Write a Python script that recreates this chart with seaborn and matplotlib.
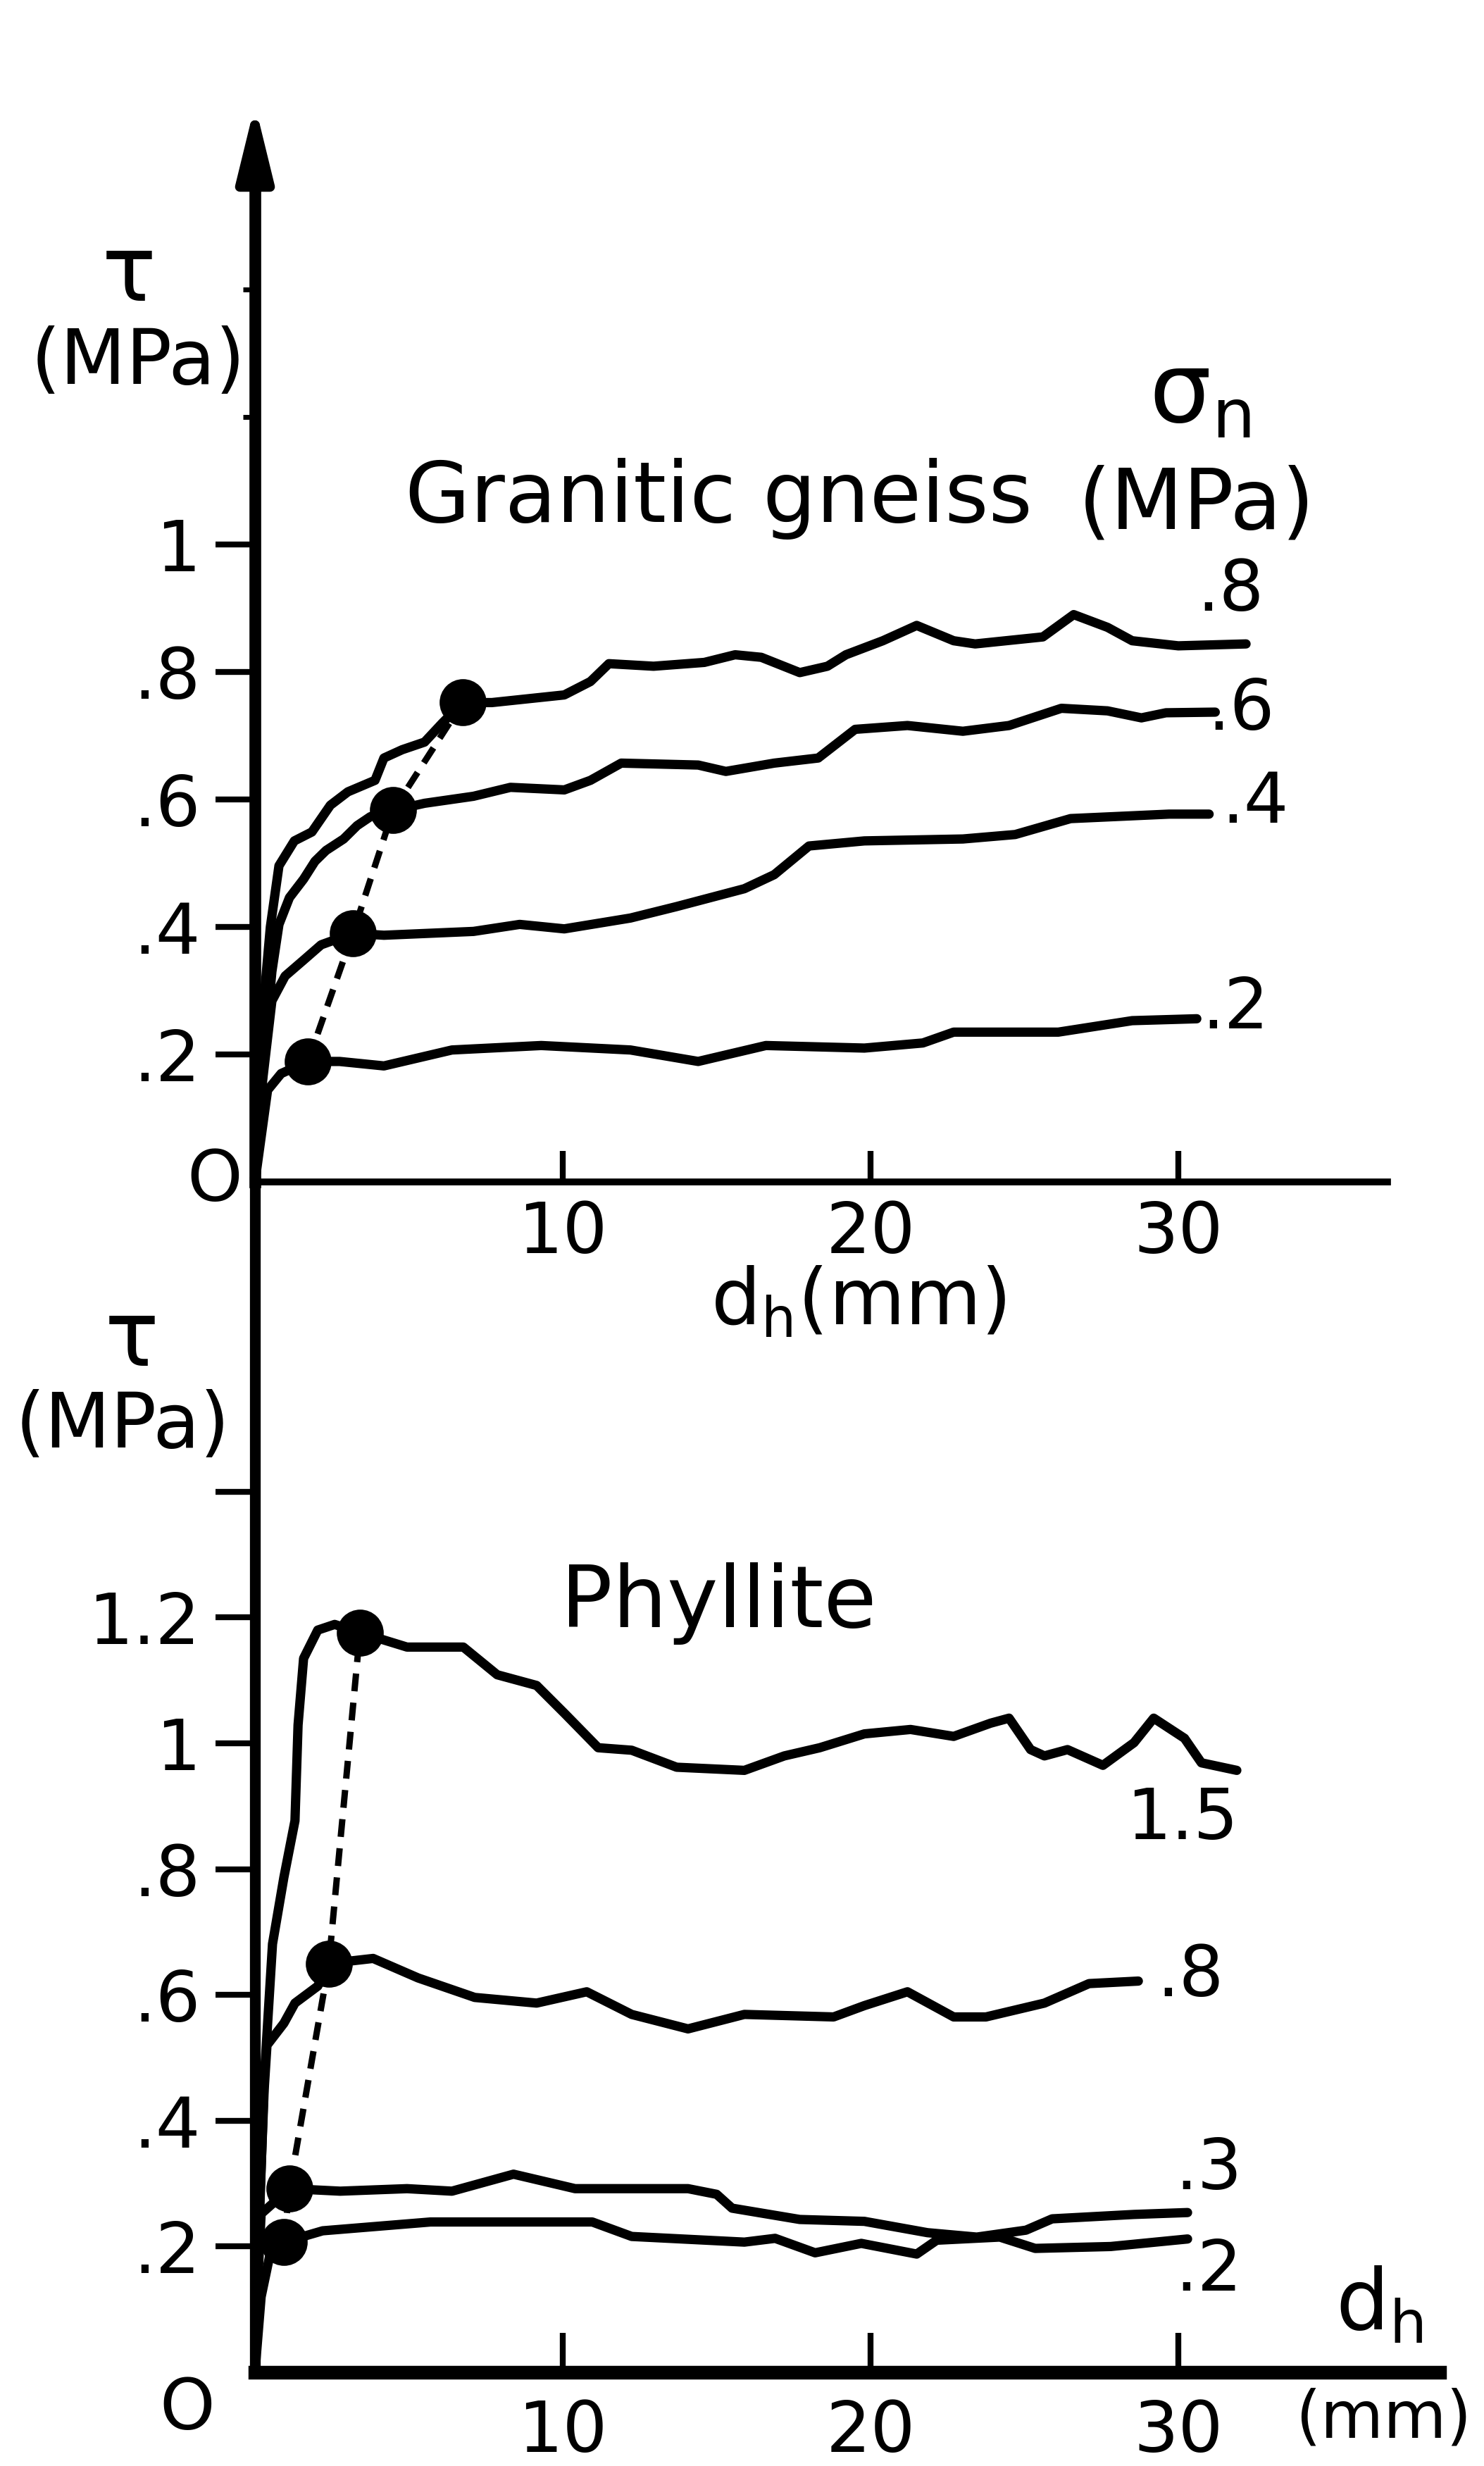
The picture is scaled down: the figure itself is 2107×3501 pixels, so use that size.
import numpy as np
import pandas as pd
import matplotlib
matplotlib.use("Agg")
import matplotlib.pyplot as plt
import seaborn as sns

# ---------------- data ----------------
# Granitic gneiss, sigma_n = .8, .6, .4, .2 MPa
gg_08_d = [0, 0.1, 0.25, 0.5, 0.78, 1.28, 1.85, 2.45, 3.02, 3.9, 4.19, 4.78, 5.51, 6.09, 6.75, 7.7, 10.05,
           10.9, 11.5, 12.95, 14.6, 15.6, 16.45, 17.7, 18.6, 19.2, 20.4, 21.5, 22.7, 23.4, 25.6, 26.6, 27.7,
           28.5, 30.0, 32.2]
gg_08_t = [0, 0.12, 0.263, 0.40, 0.496, 0.535, 0.549, 0.591, 0.612, 0.63, 0.665, 0.678, 0.69, 0.72, 0.752,
           0.752, 0.764, 0.785, 0.813, 0.809, 0.815, 0.827, 0.823, 0.799, 0.809, 0.827, 0.849, 0.873, 0.849,
           0.844, 0.855, 0.89, 0.87, 0.849, 0.841, 0.844]
gg_06_d = [0, 0.3, 0.55, 0.78, 1.12, 1.58, 1.95, 2.31, 2.88, 3.32, 3.75, 4.49, 5.51, 7.1, 8.3, 10.05, 10.9,
           11.9, 14.4, 15.3, 16.87, 18.3, 19.5, 21.2, 23.0, 24.5, 26.2, 27.7, 28.8, 29.6, 31.2]
gg_06_t = [0, 0.20, 0.33, 0.404, 0.446, 0.475, 0.503, 0.52, 0.538, 0.559, 0.573, 0.583, 0.594, 0.605, 0.619,
           0.615, 0.63, 0.657, 0.654, 0.644, 0.657, 0.665, 0.71, 0.716, 0.707, 0.716, 0.743, 0.739, 0.728,
           0.736, 0.737]
gg_04_d = [0, 0.25, 0.55, 0.98, 1.58, 2.15, 3.18, 4.19, 7.1, 8.6, 10.05, 12.2, 13.7, 15.9, 16.87, 18.0, 19.8,
           23.0, 24.7, 26.5, 29.7, 31.0]
gg_04_t = [0, 0.16, 0.284, 0.323, 0.348, 0.372, 0.39, 0.387, 0.393, 0.404, 0.397, 0.414, 0.432, 0.46, 0.482,
           0.527, 0.535, 0.538, 0.545, 0.57, 0.577, 0.577]
gg_02_d = [0, 0.41, 0.85, 1.72, 2.75, 4.19, 6.4, 9.3, 12.2, 14.4, 16.6, 19.8, 21.7, 22.7, 26.1, 28.5, 30.6]
gg_02_t = [0, 0.144, 0.17, 0.189, 0.189, 0.182, 0.207, 0.214, 0.207, 0.189, 0.214, 0.21, 0.218, 0.235, 0.235,
           0.253, 0.256]
gg_peak_d = [1.72, 3.18, 4.49, 6.75]
gg_peak_t = [0.189, 0.39, 0.583, 0.752]

# Phyllite, sigma_n = 1.5, .8, .3, .2 MPa
ph_15_d = [0, 0.15, 0.3, 0.57, 0.94, 1.3, 1.4, 1.58, 2.04, 2.59, 3.41, 4.94, 6.77, 7.87, 9.15, 10.07, 11.15,
           12.24, 13.7, 15.9, 17.2, 18.35, 19.8, 21.3, 22.7, 23.9, 24.5, 25.2, 25.65, 26.4, 27.55, 28.56,
           29.2, 30.2, 30.75, 31.9]
ph_15_t = [0, 0.25, 0.466, 0.681, 0.787, 0.877, 1.029, 1.135, 1.18, 1.189, 1.176, 1.153, 1.153, 1.109, 1.092,
           1.047, 0.993, 0.989, 0.962, 0.957, 0.98, 0.993, 1.015, 1.022, 1.011, 1.032, 1.04, 0.99, 0.98,
           0.99, 0.965, 1.001, 1.04, 1.008, 0.969, 0.957]
ph_08_d = [0, 0.1, 0.3, 0.39, 0.94, 1.3, 2.04, 2.4, 3.84, 5.3, 7.14, 9.15, 10.78, 12.24, 14.07, 15.9, 18.8,
           19.8, 21.2, 22.7, 23.75, 25.65, 27.1, 28.7]
ph_08_t = [0, 0.2, 0.45, 0.52, 0.555, 0.587, 0.614, 0.65, 0.658, 0.627, 0.596, 0.587, 0.605, 0.569, 0.546,
           0.569, 0.565, 0.583, 0.605, 0.565, 0.565, 0.587, 0.618, 0.622]
ph_03_d = [0, 0.1, 0.2, 1.12, 2.77, 4.94, 6.4, 8.4, 10.4, 14.07, 15.0, 15.5, 17.7, 19.8, 21.85, 23.45, 25.05,
           25.9, 28.56, 30.3]
ph_03_t = [0, 0.15, 0.252, 0.292, 0.288, 0.292, 0.288, 0.315, 0.292, 0.292, 0.283, 0.261, 0.243, 0.24, 0.222,
           0.215, 0.226, 0.244, 0.251, 0.254]
ph_02_d = [0, 0.2, 0.5, 0.94, 2.2, 5.7, 10.96, 12.24, 15.9, 16.9, 18.2, 19.7, 21.5, 22.15, 24.2, 25.35, 27.8,
           30.3]
ph_02_t = [0, 0.12, 0.19, 0.207, 0.225, 0.239, 0.239, 0.216, 0.207, 0.213, 0.19, 0.205, 0.188, 0.21, 0.215,
           0.197, 0.2, 0.212]
ph_peak_d = [0.94, 1.12, 2.4, 3.41]
ph_peak_t = [0.207, 0.292, 0.65, 1.176]

gg_sigma_labels = [".8", ".6", ".4", ".2"]
ph_sigma_labels = ["1.5", ".8", ".3", ".2"]
gg_yticks = [0.2, 0.4, 0.6, 0.8, 1.0]
gg_yticklabels = [".2", ".4", ".6", ".8", "1"]
ph_yticks = [0.2, 0.4, 0.6, 0.8, 1.0, 1.2, 1.4]
ph_yticklabels = [".2", ".4", ".6", ".8", "1", "1.2", ""]
xticks = [10, 20, 30]
xticklabels = ["10", "20", "30"]

def long_df(curves, labels):
    rows = []
    for (d, t), lab in zip(curves, labels):
        for a, b in zip(d, t):
            rows.append({"sigma": lab, "d": a, "tau": b})
    return pd.DataFrame(rows)

df_gg = long_df([(gg_08_d, gg_08_t), (gg_06_d, gg_06_t), (gg_04_d, gg_04_t), (gg_02_d, gg_02_t)],
                gg_sigma_labels)
df_ph = long_df([(ph_15_d, ph_15_t), (ph_08_d, ph_08_t), (ph_03_d, ph_03_t), (ph_02_d, ph_02_t)],
                ph_sigma_labels)

# ---------------- style ----------------
sns.set_style("white")
plt.rcParams["font.family"] = ["DejaVu Sans"]
plt.rcParams["mathtext.default"] = "regular"
for k in ["text.color", "axes.labelcolor", "xtick.color", "ytick.color", "axes.edgecolor"]:
    plt.rcParams[k] = "black"

W, H = 2107, 3501
fig = plt.figure(figsize=(W / 100, H / 100), dpi=100)
fig.patch.set_facecolor("white")

x0 = 362.0      # pixel of d = 0
pxmm = 43.7     # pixels per mm

# top axes
t_y0, t_pu = 1678.0, 905.0
t_xmax, t_ymax = 36.8, 1.69
ax1 = fig.add_axes([x0 / W, (H - t_y0) / H, t_xmax * pxmm / W, t_ymax * t_pu / H])
# bottom axes
b_y0, b_pu = 3368.0, 893.0
b_xmax, b_ymax = 38.5, (b_y0 - t_y0) / b_pu
ax2 = fig.add_axes([x0 / W, (H - b_y0) / H, b_xmax * pxmm / W, b_ymax * b_pu / H])

LW = 9.5
TICKFS = 72

for ax, df, xmax, ymax in [(ax1, df_gg, t_xmax, t_ymax), (ax2, df_ph, b_xmax, b_ymax)]:
    ax.set_facecolor("none")
    sns.lineplot(data=df, x="d", y="tau", units="sigma", estimator=None, sort=False,
                 color="black", lw=LW, ax=ax, legend=False, solid_capstyle="round",
                 solid_joinstyle="round")
    ax.set_xlim(0, xmax)
    ax.set_ylim(0, ymax)
    ax.set_xlabel("")
    ax.set_ylabel("")
    for s in ["top", "right"]:
        ax.spines[s].set_visible(False)
    for s in ["left", "bottom"]:
        ax.spines[s].set_color("black")
    ax.set_xticks(xticks)
    ax.set_xticklabels(xticklabels)

# peak points and dashed connection
for ax, pd_, pt_ in [(ax1, gg_peak_d, gg_peak_t), (ax2, ph_peak_d, ph_peak_t)]:
    ln, = ax.plot(pd_, pt_, color="black", lw=6.5, zorder=3)
    ln.set_dashes([2.8, 1.8])
    sns.scatterplot(x=pd_, y=pt_, ax=ax, color="black", s=48 ** 2, edgecolor="black",
                    linewidth=0, zorder=4, legend=False)

# ---- top axes details ----
ax1.spines["left"].set_linewidth(12)
ax1.spines["left"].set_bounds(0, 1.6)
ax1.spines["bottom"].set_linewidth(7)
ax1.set_yticks(gg_yticks)
ax1.set_yticklabels(gg_yticklabels)
ax1.set_yticks([1.2, 1.4], minor=True)
ax1.tick_params(axis="y", which="major", direction="out", length=40, width=6, pad=16,
                labelsize=TICKFS, left=True)
ax1.tick_params(axis="y", which="minor", direction="out", length=12, width=5, left=True)
ax1.tick_params(axis="x", which="major", direction="in", length=32, width=6, pad=18,
                labelsize=TICKFS, bottom=True)
ax1.annotate("", xy=(0, 1.69), xytext=(0, 1.52), annotation_clip=False,
             arrowprops=dict(arrowstyle="-|>,head_length=0.9,head_width=0.22",
                             mutation_scale=70, lw=10, color="black",
                             shrinkA=0, shrinkB=0))

ax1.text(-1.3, 0.0, "O", fontsize=TICKFS, ha="center", va="center", clip_on=False)
ax1.text(-4.1, 1.382, "τ", fontsize=92, ha="center", va="baseline", clip_on=False)
ax1.text(-3.8, 1.344, "(MPa)", fontsize=78, ha="center", va="top", clip_on=False)
ax1.text(15.06, 1.035, "Granitic gneiss", fontsize=86, ha="center", va="baseline")
ax1.text(30.6, 1.025, "(MPa)", fontsize=86, ha="center", va="baseline")
ax1.text(30.7, 1.235, r"$\sigma_{n}$", fontsize=100, ha="center", va="center")
ax1.text(19.6, -0.19, r"d$_{h}$(mm)", fontsize=80, ha="center", va="center", clip_on=False)

for lab, xx, yy in zip(gg_sigma_labels, [30.6, 30.95, 31.4, 30.75], [0.926, 0.74, 0.594, 0.271]):
    ax1.text(xx, yy, lab, fontsize=TICKFS, ha="left", va="center")

# ---- bottom axes details ----
ax2.spines["left"].set_linewidth(11)
ax2.spines["bottom"].set_linewidth(14)
ax2.set_yticks(ph_yticks)
ax2.set_yticklabels(ph_yticklabels)
ax2.tick_params(axis="y", which="major", direction="out", length=40, width=6, pad=16,
                labelsize=TICKFS, left=True)
ax2.tick_params(axis="x", which="major", direction="in", length=40, width=6, pad=27,
                labelsize=TICKFS, bottom=True)

ax2.text(-2.2, -0.06, "O", fontsize=TICKFS, ha="center", va="center", clip_on=False)
ax2.text(-4.0, 1.60, "τ", fontsize=92, ha="center", va="baseline", clip_on=False)
ax2.text(-4.3, 1.563, "(MPa)", fontsize=78, ha="center", va="top", clip_on=False)
ax2.text(15.06, 1.185, "Phyllite", fontsize=88, ha="center", va="baseline")
ax2.text(35.1, 0.068, r"d$_{h}$", fontsize=86, ha="left", va="baseline", clip_on=False)
ax2.text(33.8, -0.075, "(mm)", fontsize=66, ha="left", va="center", clip_on=False)

for lab, xx, yy in zip(ph_sigma_labels, [28.3, 29.3, 29.9, 29.9], [0.879, 0.629, 0.322, 0.161]):
    ax2.text(xx, yy, lab, fontsize=TICKFS, ha="left", va="center")

fig.savefig("out.png", dpi=100, facecolor="white")
